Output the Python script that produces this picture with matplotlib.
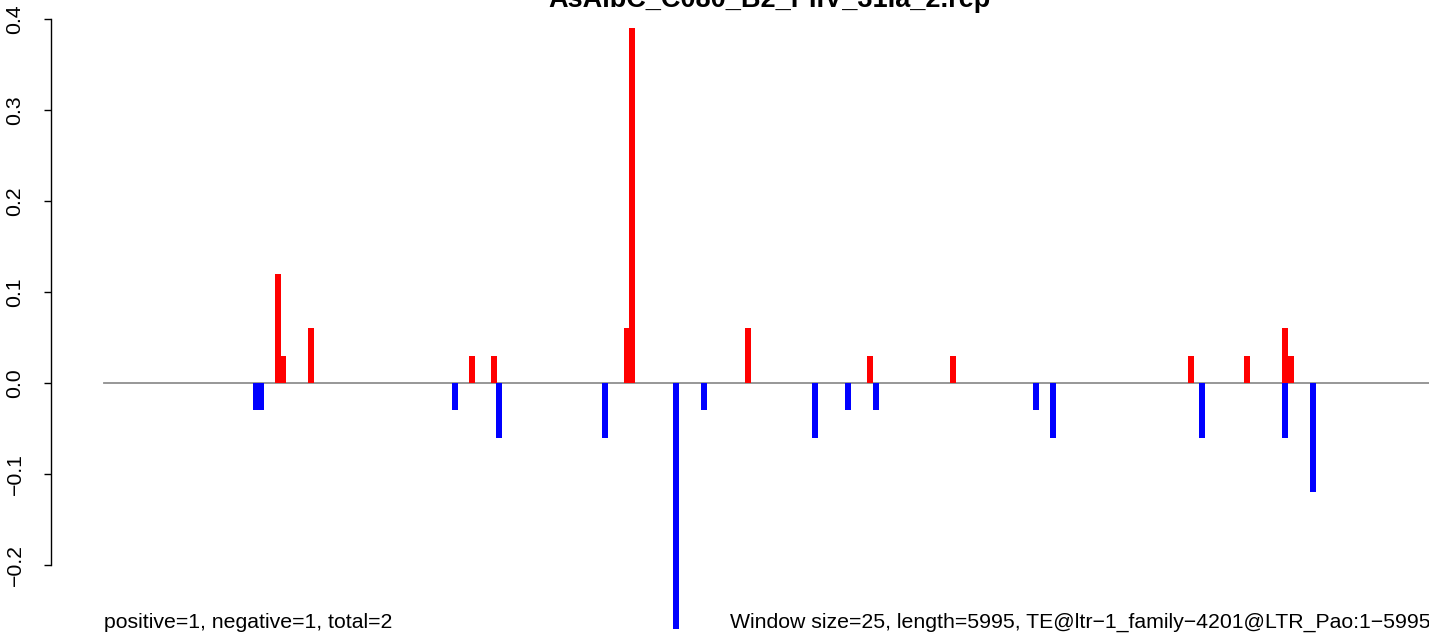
import matplotlib
matplotlib.use("Agg")
import matplotlib.pyplot as plt

plt.rcParams['font.family'] = ['Liberation Sans', 'DejaVu Sans']

# ---- data ----
title = "AsAlbC_C080_B2_PIIV_31Ia_2.rep"
window_size = 25
seq_length = 5995
pos_windows = [31, 32, 37, 66, 70, 94, 95, 116, 138, 153, 196, 206, 213, 214]
pos_values = [0.12, 0.03, 0.06, 0.03, 0.03, 0.06, 0.39, 0.06, 0.03, 0.03, 0.03, 0.03, 0.06, 0.03]
neg_windows = [27, 28, 63, 71, 90, 103, 108, 128, 134, 139, 168, 171, 198, 213, 218]
neg_values = [-0.03, -0.03, -0.03, -0.06, -0.06, -0.27, -0.03, -0.06, -0.03, -0.03,
              -0.03, -0.06, -0.06, -0.06, -0.12]
ytick_values = [-0.2, -0.1, 0.0, 0.1, 0.2, 0.3, 0.4]
ytick_labels = ["\u22120.2", "\u22120.1", "0.0", "0.1", "0.2", "0.3", "0.4"]
left_note = "positive=1, negative=1, total=2"
right_note = ("Window size=25, length=5995, TE@ltr\u22121_family\u22124201@LTR_Pao:1\u22125995")

W, H = 1429, 634
fig = plt.figure(figsize=(W / 100, H / 100), dpi=100)

# axes geometry (pixel based, R-like plot region that runs off the right/bottom)
left_px, right_px = 50.5, 1484.0
top_px, bottom_px = 4.1, 652.7
ax = fig.add_axes([left_px / W, (H - bottom_px) / H,
                   (right_px - left_px) / W, (bottom_px - top_px) / H])
ext = 0.04 * seq_length
ax.set_xlim(-ext, seq_length + ext)
ax.set_ylim(-0.2964, 0.4164)

bar_w = window_size * 1.085
px = [w * window_size + window_size / 2 for w in pos_windows]
nx = [w * window_size + window_size / 2 for w in neg_windows]

ax.plot([0, seq_length + ext], [0, 0], color='#8f8f8f', lw=1.3, zorder=1, clip_on=False)
ax.bar(px, pos_values, width=bar_w, color='#ff0000', linewidth=0, zorder=2)
ax.bar(nx, neg_values, width=bar_w, color='#0000ff', linewidth=0, zorder=2)

for s in ['top', 'right', 'bottom']:
    ax.spines[s].set_visible(False)
ax.spines['left'].set_bounds(-0.2, 0.4)
ax.spines['left'].set_linewidth(1.0)
ax.set_xticks([])
ax.set_yticks(ytick_values)
ax.set_yticklabels(ytick_labels, rotation=90, va='center', fontsize=15.3)
ax.tick_params(axis='y', length=5.2, width=1.0, pad=13.5)
ax.patch.set_alpha(0)

ax.text(0, -0.2692, left_note, ha='left', va='baseline', fontsize=15.3)
ax.text(seq_length, -0.2692, right_note, ha='right', va='baseline', fontsize=15.3)

fig.text(769 / W, 1 - 7 / H, title, ha='center', va='baseline',
         fontsize=19.5, fontweight='bold')

fig.savefig("out.png", dpi=100)
